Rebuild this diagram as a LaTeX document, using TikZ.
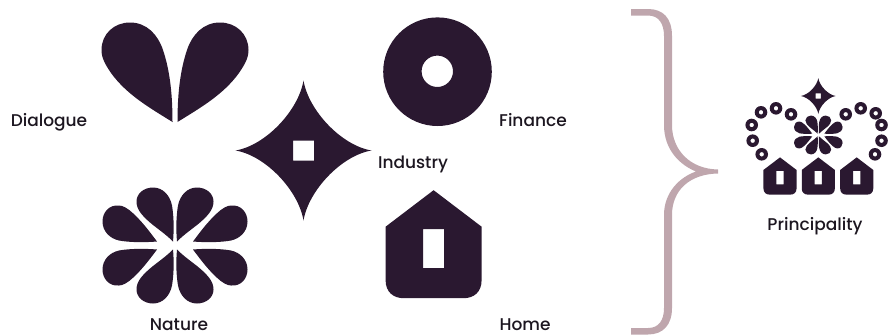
\documentclass[tikz,border=0pt]{standalone}
\usepackage{fontspec}
\setmainfont{Poppins}[UprightFont=* Medium]
\definecolor{ink}{HTML}{2A1830}
\definecolor{brace}{HTML}{BFA6AD}
\definecolor{lab}{HTML}{1C1620}
\tikzset{
  lbl/.style={font=\fontsize{17}{18}\selectfont,text=lab,inner sep=0pt,anchor=base},
  solid ink/.style={fill=ink,draw=none,even odd rule},
  pics/starmark/.style={code={
    \fill[solid ink] (0,-70) .. controls (-5,-40) and (-38,-5) .. (-68,0)
       .. controls (-38,5) and (-5,40) .. (0,70)
       .. controls (5,40) and (38,5) .. (68,0)
       .. controls (38,-5) and (5,-40) .. (0,-70) -- cycle
       (-10.5,-10) rectangle (10.5,10);
  }},
  pics/flowermark/.style={code={
    \foreach \sx in {1,-1}{\foreach \sy in {1,-1}{
      \begin{scope}[xscale=\sx,yscale=\sy]
      \fill[solid ink] (-2,-4) .. controls (-10,-12) and (-18,-17) .. (-25,-23)
         .. controls (-33,-30) and (-38.5,-36) .. (-38.5,-44)
         .. controls (-38.5,-52) and (-31,-58) .. (-22,-58)
         .. controls (-12,-58) and (-5,-50) .. (-3,-40)
         .. controls (-1,-28) and (-1,-15) .. (-2,-4) -- cycle;
      \fill[solid ink] (-18,-4) .. controls (-24,-12) and (-32,-23) .. (-41.7,-32)
         .. controls (-47,-37) and (-52,-40) .. (-56,-40)
         .. controls (-66,-41) and (-72.5,-33) .. (-72.5,-24)
         .. controls (-72.5,-14) and (-65,-7) .. (-56,-5)
         .. controls (-45,-3) and (-30,-3) .. (-18,-4) -- cycle;
      \end{scope}
    }}
  }},
  pics/housemark/.style={code={
    \fill[solid ink] (0,-54) -- (48,-17.5)
       -- (48,36) .. controls (48,48) and (40,54) .. (30,54)
       -- (-30,54) .. controls (-40,54) and (-48,48) .. (-48,36)
       -- (-48,-17.5) -- cycle
       (-10.5,-15) rectangle (10.5,24);
  }},
  pics/beadmark/.style={code={
    \fill[solid ink] (0,0) circle (6.3) (0,0) circle (2.3);
  }}
}
\begin{document}
\begin{tikzpicture}[x=1pt,y=-1pt]
\useasboundingbox (0,0) rectangle (888,335);
% heart
\foreach \sx in {1,-1}{
\begin{scope}[shift={(175,0)},xscale=\sx]
  \fill[solid ink] (-2.5,122) .. controls (-25,108) and (-48,95) .. (-64,73)
    .. controls (-70,64) and (-73.5,58) .. (-73.5,50)
    .. controls (-73.5,34) and (-61,22.5) .. (-45,22.5)
    .. controls (-28,22.5) and (-17,35) .. (-12,50)
    .. controls (-6,68) and (-2.5,90) .. (-2.5,122) -- cycle;
\end{scope}}
% big marks
\pic at (303.5,150.5) {starmark};
\pic at (175,245.5) {flowermark};
\fill[solid ink] (437.5,71.7) circle (54.3) (437.3,71.3) circle (15.7);
\pic at (433.6,244.2) {housemark};
% brace
\fill[brace] (631,9) -- (648,9) .. controls (663,9) and (672,18) .. (672,36)
  -- (672,125) .. controls (672,150) and (690,169) .. (718,169.5)
  -- (718,173.5) .. controls (690,174) and (672,190) .. (672,215)
  -- (672,308) .. controls (672,325) and (663,334.5) .. (648,334.5)
  -- (631,334.5) -- (631,328) -- (648,328) .. controls (659,328) and (664,320) .. (664,308)
  -- (664,215) .. controls (664,192) and (680,177) .. (696,171.5)
  .. controls (680,165) and (664,150) .. (664,125)
  -- (664,36) .. controls (664,24) and (659,15.5) .. (648,15.5)
  -- (631,15.5) -- cycle;
% small emblem
\pic[scale=.255] at (818.3,96) {starmark};
\pic[scale=.335] at (818.3,135) {flowermark};
\foreach \hx in {780,818.3,856.7}{\pic[scale=.345] at (\hx,176) {housemark};}
\foreach \bx/\by in {761/112.3,776/108.3,791/114.3,751.7/125,752.7/140.7,761.7/154.3,
                     845.7/114.3,860.7/108.3,875.7/113.3,881.5/125,881.5/140.7,875/154.3}
  {\pic at (\bx,\by) {beadmark};}
% labels
\node[lbl] (dialogue) at (49,126) {Dialogue};
\node[lbl] (finance) at (533,126) {Finance};
\node[lbl] (industry) at (413,168) {Industry};
\node[lbl] (nature) at (179,330.5) {Nature};
\node[lbl] (home) at (525,330.5) {Home};
\node[lbl] (principality) at (815,230) {Principality};
\end{tikzpicture}
\end{document}
